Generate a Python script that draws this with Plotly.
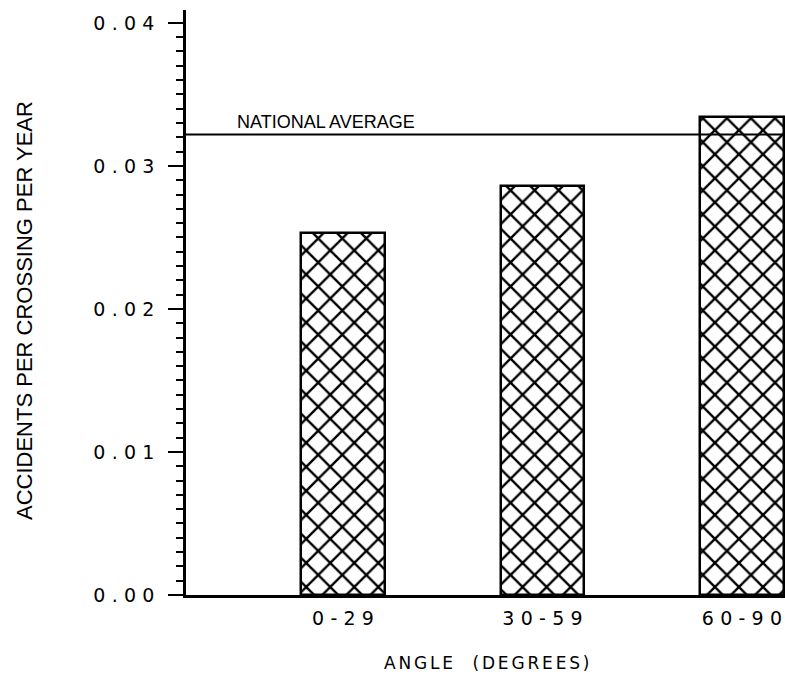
import plotly.graph_objects as go

# ---- data ----
categories = ["0-29", "30-59", "60-90"]
accident_rates = [0.0253, 0.0286, 0.0334]
national_average = 0.0322
national_label = "NATIONAL AVERAGE"
y_tick_values = [0.00, 0.01, 0.02, 0.03, 0.04]
x_title = "ANGLE  (DEGREES)"
y_title = "ACCIDENTS PER CROSSING PER YEAR"

W, H = 785, 679
L, R, T, B = 186, 0, 10, 84

def spaced(s, sep):
    return sep.join(list(s))

plot_font = "DejaVu Sans, Liberation Sans, sans-serif"

fig = go.Figure(
    go.Bar(
        x=list(range(len(categories))),
        y=accident_rates,
        width=0.42,
        marker=dict(
            color="black",
            line=dict(color="black", width=2.5),
            pattern=dict(shape="x", size=17, solidity=0.26,
                         fgcolor="black", bgcolor="white", fillmode="replace"),
        ),
        showlegend=False,
        hoverinfo="skip",
    )
)

fig.update_xaxes(
    range=[-0.787, 2.216],
    tickvals=list(range(len(categories))),
    ticktext=[spaced(c, "\u2004") for c in categories],
    tickfont=dict(family=plot_font, size=19, color="black"),
    ticks="",
    ticklabelstandoff=4,
    showline=True, linecolor="black", linewidth=2.5,
    showgrid=False, zeroline=False,
)

fig.update_yaxes(
    range=[0, 0.0409],
    tickvals=y_tick_values,
    ticktext=[spaced(f"{v:.2f}", "\u2004") for v in y_tick_values],
    tickfont=dict(family=plot_font, size=19, color="black"),
    ticks="outside", ticklen=15, tickwidth=2, tickcolor="black",
    ticklabelstandoff=10,
    minor=dict(ticks="outside", ticklen=7, dtick=0.001, tickwidth=1.5,
               tickcolor="black", showgrid=False),
    showline=True, linecolor="black", linewidth=2.5,
    showgrid=False, zeroline=False,
)

fig.add_shape(type="line", xref="paper", x0=0, x1=1, yref="y",
              y0=national_average, y1=national_average,
              line=dict(color="black", width=2), layer="above")

plot_w = W - L - R
plot_h = H - T - B

fig.add_annotation(
    text=national_label, xref="paper", yref="y",
    x=(235 - L) / plot_w, y=national_average,
    xanchor="left", yanchor="bottom", yshift=0, showarrow=False,
    font=dict(family="Liberation Sans, Arial, sans-serif", size=18, color="black"),
)

fig.add_annotation(
    text=y_title, xref="paper", yref="paper",
    x=(25 - L) / plot_w, y=(H - B - 311) / plot_h,
    xanchor="center", yanchor="middle", textangle=-90, showarrow=False,
    font=dict(family="Liberation Sans, Arial, sans-serif", size=22, color="black"),
)

fig.add_annotation(
    text=spaced(x_title, "\u2006"), xref="paper", yref="paper",
    x=(486 - L) / plot_w, y=(H - B - 663) / plot_h,
    xanchor="center", yanchor="middle", showarrow=False,
    font=dict(family=plot_font, size=17, color="black"),
)

fig.update_layout(
    width=W, height=H,
    margin=dict(l=L, r=R, t=T, b=B),
    plot_bgcolor="white", paper_bgcolor="white",
    bargap=0,
)

fig.write_html(
    "out.html",
    config={"displayModeBar": False},
    post_script="document.body.style.margin='0';document.body.style.overflow='hidden';",
)
